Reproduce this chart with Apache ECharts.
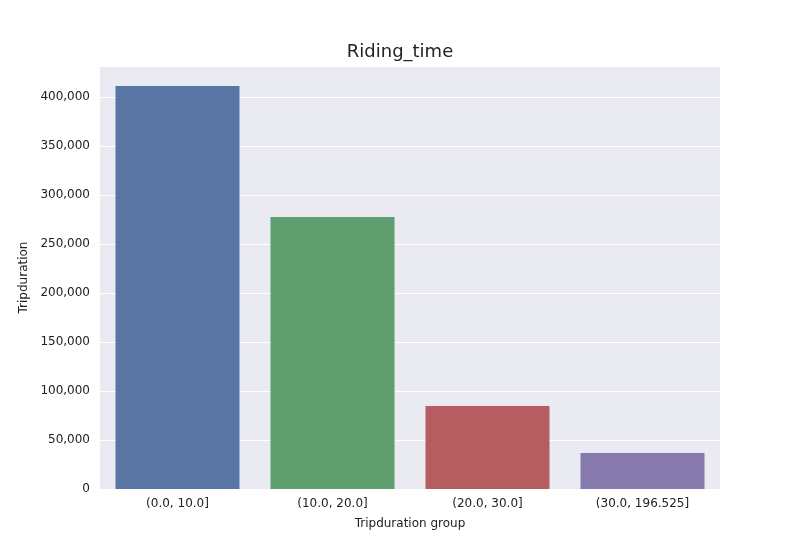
<!DOCTYPE html>
<html>
<head>
<meta charset="utf-8">
<script src="https://cdn.jsdelivr.net/npm/echarts@6/dist/echarts.min.js"></script>
<style>html,body{margin:0;padding:0;background:#fff}#main{width:800px;height:550px}</style>
</head>
<body>
<div id="main"></div>
<script>
// values
var categories = ['(0.0, 10.0]', '(10.0, 20.0]', '(20.0, 30.0]', '(30.0, 196.525]'];
var tripCounts = [411200, 277600, 84700, 36700];
var barColors = ['#5975a4', '#5f9e6e', '#b55d60', '#857aab'];

var myChart = echarts.init(document.getElementById('main'));

var option = {
  backgroundColor: '#fff',
  title: {
    text: 'Riding_time',
    left: 'center',
    top: 38,
    textStyle: { fontFamily: 'DejaVu Sans', fontSize: 18, fontWeight: 'normal', color: '#222' }
  },
  grid: {
    left: 100, right: 80, top: 66, bottom: 61,
    show: true, backgroundColor: '#eaeaf2', borderWidth: 0
  },
  xAxis: {
    type: 'category',
    data: categories,
    name: 'Tripduration group',
    nameLocation: 'middle',
    nameGap: 29,
    nameTextStyle: { fontFamily: 'DejaVu Sans', fontSize: 12, color: '#222' },
    axisLine: { show: false },
    axisTick: { show: false },
    axisLabel: { fontFamily: 'DejaVu Sans', fontSize: 12, color: '#222', margin: 9 }
  },
  yAxis: {
    type: 'value',
    min: 0,
    max: 431600,
    interval: 50000,
    name: 'Tripduration',
    nameLocation: 'middle',
    nameGap: 68,
    nameTextStyle: { fontFamily: 'DejaVu Sans', fontSize: 12, color: '#222' },
    axisLine: { show: false },
    axisTick: { show: false },
    axisLabel: {
      fontFamily: 'DejaVu Sans', fontSize: 12, color: '#222', margin: 10,
      showMaxLabel: false
    },
    splitLine: { lineStyle: { color: '#fff', width: 1.2 } }
  },
  series: [{
    type: 'bar',
    barWidth: '80%',
    data: tripCounts.map(function (v, i) {
      return { value: v, itemStyle: { color: barColors[i] } };
    })
  }]
};
option && myChart.setOption(option);
</script>
</body>
</html>
